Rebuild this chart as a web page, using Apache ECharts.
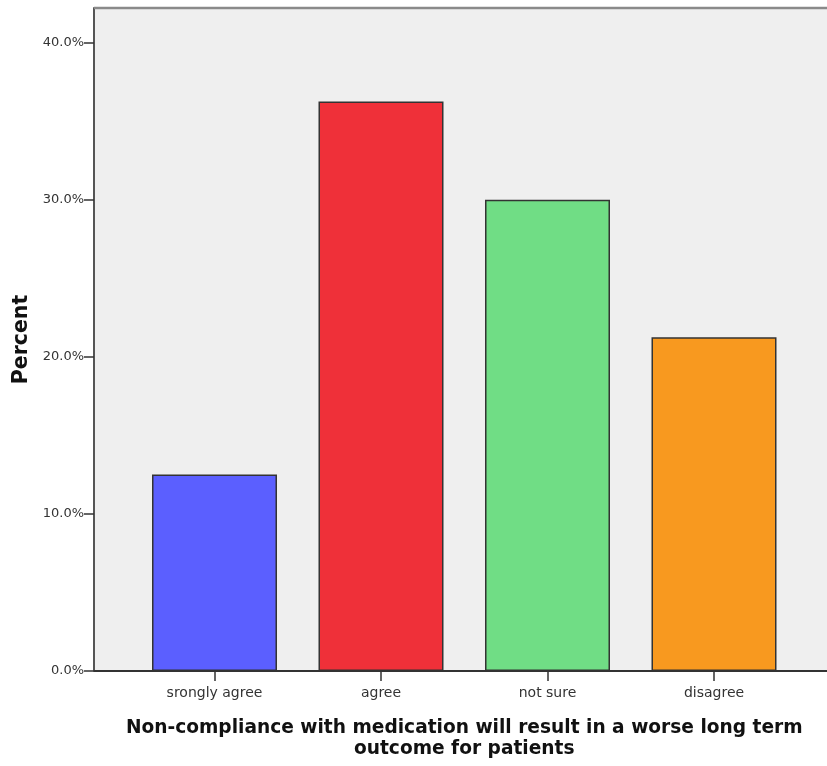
<!DOCTYPE html>
<html>
<head>
<meta charset="utf-8">
<script src="https://cdn.jsdelivr.net/npm/echarts@6/dist/echarts.min.js"></script>
<style>html,body{margin:0;padding:0;background:#fff;}#c{width:827px;height:766px;}</style>
</head>
<body>
<div id="c"></div>
<script>
const categories = ['srongly agree', 'agree', 'not sure', 'disagree'];
const percents = [12.5, 36.25, 30.0, 21.25];
const barColors = ['#5b5fff', '#ef3039', '#70dd85', '#f8991f'];
const yTicks = [0, 10, 20, 30, 40];
const xTitle = 'Non-compliance with medication will result in a worse long term\noutcome for patients';
const yTitle = 'Percent';

const chart = echarts.init(document.getElementById('c'), null, {renderer: 'canvas'});
const font = '"DejaVu Sans", sans-serif';
const gridLeft = 131.25, gridRight = 29.75, gridTop = 8, gridBottom = 95;
const frameLeft = 94;
chart.setOption({
  backgroundColor: '#ffffff',
  animation: false,
  graphic: [
    {type: 'rect', z: -100, silent: true,
     shape: {x: frameLeft, y: gridTop, width: 827 - frameLeft, height: 766 - gridBottom - gridTop},
     style: {fill: '#efefef'}},
    {type: 'line', z: 100, silent: true,
     shape: {x1: frameLeft, y1: gridTop, x2: 827, y2: gridTop},
     style: {stroke: '#8a8a8a', lineWidth: 2.5}},
    {type: 'line', z: 100, silent: true,
     shape: {x1: frameLeft, y1: 766 - gridBottom, x2: 827, y2: 766 - gridBottom},
     style: {stroke: '#333', lineWidth: 2}}
  ],
  grid: {left: gridLeft, right: gridRight, top: gridTop, bottom: gridBottom, containLabel: false},
  xAxis: {
    type: 'category',
    data: categories,
    boundaryGap: true,
    name: xTitle,
    nameLocation: 'middle',
    nameGap: 47,
    nameTextStyle: {fontFamily: font, fontWeight: 'bold', fontSize: 18.6, color: '#111', lineHeight: 21},
    axisLine: {show: false},
    axisTick: {show: true, alignWithLabel: true, length: 10, lineStyle: {color: '#333', width: 1.5}},
    axisLabel: {fontFamily: font, fontSize: 14, color: '#333', margin: 15}
  },
  yAxis: {
    type: 'value',
    min: 0,
    max: 42.2,
    interval: 10,
    offset: gridLeft - frameLeft,
    name: yTitle,
    nameLocation: 'middle',
    nameGap: 61,
    nameRotate: 90,
    nameTextStyle: {fontFamily: font, fontWeight: 'bold', fontSize: 20.5, color: '#111'},
    axisLine: {show: true, lineStyle: {color: '#555', width: 2}},
    axisTick: {show: true, length: 10, lineStyle: {color: '#333', width: 1.5}},
    splitLine: {show: false},
    axisLabel: {
      fontFamily: font, fontSize: 13, color: '#333', margin: 10,
      showMaxLabel: false,
      formatter: function (v) { return yTicks.indexOf(v) >= 0 ? v.toFixed(1) + '%' : ''; }
    }
  },
  series: [{
    type: 'bar',
    barWidth: 125,
    data: percents.map(function (v, i) {
      return {value: v, itemStyle: {color: barColors[i], borderColor: '#333', borderWidth: 1.5}};
    })
  }]
});
</script>
</body>
</html>
